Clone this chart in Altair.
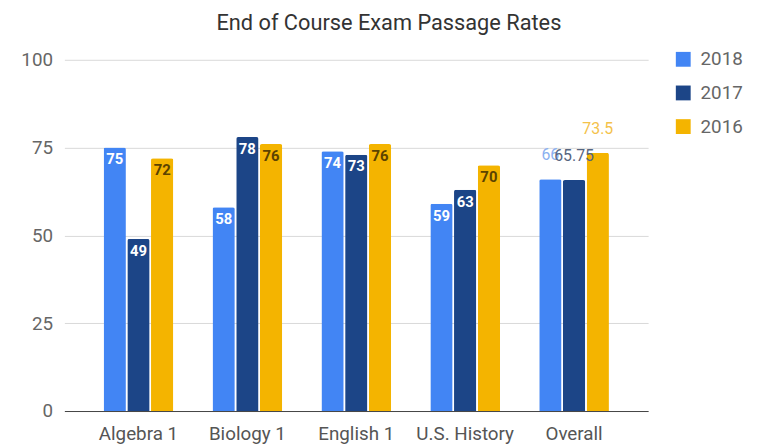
import altair as alt
import pandas as pd

subjects = ["Algebra 1", "Biology 1", "English 1", "U.S. History", "Overall"]
years = ["2018", "2017", "2016"]
rate_2018 = [75, 58, 74, 59, 66]
rate_2017 = [49, 78, 73, 63, 65.75]
rate_2016 = [72, 76, 76, 70, 73.5]

rows = []
for yr, vals in zip(years, [rate_2018, rate_2017, rate_2016]):
    for s, v in zip(subjects, vals):
        rows.append({"subject": s, "year": yr, "rate": v, "label": f"{v:g}"})
df = pd.DataFrame(rows)

bar_colors = ["#4285F4", "#1C4587", "#F4B400"]
inside_text = ["#FFFFFF", "#FFFFFF", "#5C4300"]
outside_text = ["#8AB0F0", "#56657F", "#F4C24A"]

x = alt.X("subject:N", sort=subjects, title=None,
          scale=alt.Scale(paddingInner=0.36, paddingOuter=0.36),
          axis=alt.Axis(labelAngle=0, labelFontSize=19, labelColor="#555555",
                        labelFont="Roboto", ticks=False, domainColor="#444444",
                        labelPadding=14))
xo = alt.XOffset("year:N", sort=years, scale=alt.Scale(paddingInner=0.06))
y = alt.Y("rate:Q", title=None, scale=alt.Scale(domain=[0, 100]),
          axis=alt.Axis(values=[0, 25, 50, 75, 100], labelFontSize=19,
                        labelColor="#666666", labelFont="Roboto", ticks=False,
                        domain=False, gridColor="#D9D9D9", labelPadding=12))

base = alt.Chart(df)

bars = base.mark_bar(cornerRadiusTopLeft=2, cornerRadiusTopRight=2).encode(
    x=x, xOffset=xo, y=y,
    color=alt.Color("year:N", sort=years, title=None,
                    scale=alt.Scale(domain=years, range=bar_colors),
                    legend=alt.Legend(orient="none", legendX=616, legendY=-10,
                                      symbolType="square", padding=0,
                                      symbolSize=225, labelFontSize=19,
                                      labelColor="#666666", labelFont="Roboto",
                                      rowPadding=14, labelOffset=8,
                                      symbolStrokeWidth=0)),
)

inside = base.transform_filter(alt.datum.subject != "Overall").mark_text(
    baseline="top", dy=5, fontSize=15, fontWeight="bold", font="Roboto"
).encode(
    x=x, xOffset=xo, y=y, text="label:N",
    color=alt.Color("year:N", scale=alt.Scale(domain=years, range=inside_text), legend=None),
)

outside = base.transform_filter(alt.datum.subject == "Overall").mark_text(
    baseline="bottom", dy=-16, fontSize=16, font="Roboto"
).encode(
    x=x, xOffset=xo, y=y, text="label:N",
    color=alt.Color("year:N", scale=alt.Scale(domain=years, range=outside_text), legend=None),
)

chart = alt.layer(bars, inside, outside).resolve_scale(color="independent").properties(
    width=590, height=355,
    title=alt.TitleParams("End of Course Exam Passage Rates", fontSize=22,
                          font="Roboto", fontWeight="normal", color="#333333",
                          anchor="middle", dx=33, offset=15),
    autosize=alt.AutoSizeParams(type="none"),
    padding={"left": 57, "top": 50, "right": 106, "bottom": 35},
).configure_view(stroke=None)

chart.save("out.html", embed_options={"renderer": "svg", "actions": False})
